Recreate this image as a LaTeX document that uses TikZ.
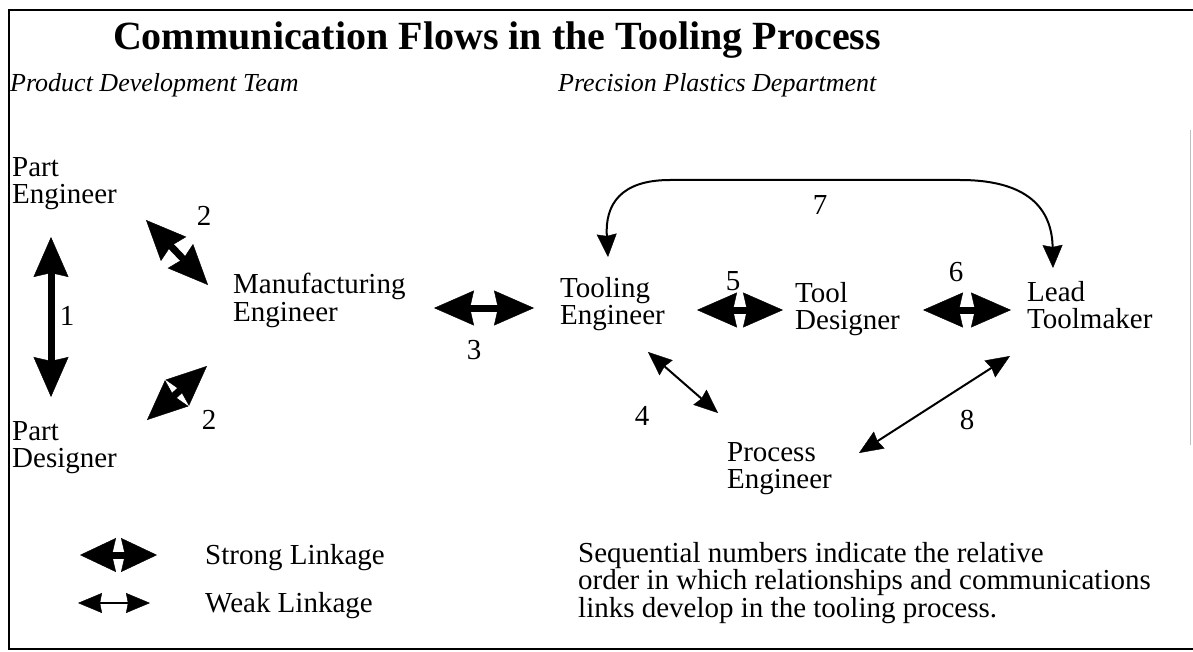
\documentclass[tikz,border=0pt]{standalone}
\usepackage{fontspec}
\setmainfont{Liberation Serif}
\usetikzlibrary{arrows.meta}
\tikzset{
  shL/.tip={Stealth[length=40pt,width=35pt,inset=4pt,line width=0.4pt]},
  shS/.tip={Stealth[length=36pt,width=34pt,inset=4pt,line width=0.4pt]},
  whL/.tip={Stealth[length=24pt,width=20pt,inset=2pt,line width=0.4pt]},
  whC/.tip={Stealth[length=23pt,width=20pt,inset=2pt,line width=0.4pt]}
}
\begin{document}
\begin{tikzpicture}[x=1pt,y=-1pt,
  lbl/.style={font=\fontsize{29}{27.5}\selectfont, align=left, anchor=north west, inner sep=0pt},
  num/.style={font=\fontsize{29}{29}\selectfont, inner sep=0pt},
  hdr/.style={font=\fontsize{26}{26}\selectfont\itshape, anchor=north west, inner sep=0pt},
  strong/.style={line width=7pt, shL-shL},
  strongleg/.style={line width=7pt, shS-shS},
  weak/.style={line width=2pt, whL-whL},
  curved/.style={line width=2pt, whC-whC},
  frameline/.style={line width=2.5pt, black}]
\useasboundingbox (0,0) rectangle (1193,652);
% frame
\coordinate (fTL) at (9,10);
\coordinate (fTR) at (1193,10);
\coordinate (fBL) at (9,649);
\coordinate (fBR) at (1193,649);
\draw[frameline] (fTR) -- (fTL) -- (fBL) -- (fBR);
\coordinate (rA) at (1190,130);
\coordinate (rB) at (1190,445);
\draw[black!25, line width=1pt] (rA) -- (rB);
% titles
\node[font=\fontsize{40}{40}\selectfont\bfseries, anchor=north, inner sep=0pt] (title) at (497,22) {Communication Flows in the Tooling Process};
\node[hdr] (pdt) at (10,73) {Product Development Team};
\node[hdr] (ppd) at (558,73) {Precision Plastics Department};
% actors
\node[lbl] (pe) at (12,157) {Part\\Engineer};
\node[lbl] (pd) at (12,421) {Part\\Designer};
\node[lbl] (me) at (233,273) {Manufacturing\\Engineer};
\node[lbl] (te) at (560,277) {Tooling\\Engineer};
\node[lbl] (td) at (795,282) {Tool\\Designer};
\node[lbl] (lt) at (1027,281) {Lead\\Toolmaker};
\node[lbl] (pr) at (727,442) {Process\\Engineer};
% arrow end points
\coordinate (a1a) at (51,237); \coordinate (a1b) at (51,397);
\coordinate (a2a) at (146,220); \coordinate (a2b) at (208,285);
\coordinate (a2c) at (147,420); \coordinate (a2d) at (207,366);
\coordinate (a3a) at (434,308); \coordinate (a3b) at (534,308);
\coordinate (a5a) at (697,310); \coordinate (a5b) at (783,310);
\coordinate (a6a) at (923,310); \coordinate (a6b) at (1011,310);
\coordinate (a4a) at (648,352); \coordinate (a4b) at (718,413);
\coordinate (a8a) at (1010,356); \coordinate (a8b) at (859,453);
\coordinate (a7a) at (608,257); \coordinate (a7b) at (1053,268);
% arrows
\draw[strong] (a1a) -- (a1b);
\draw[strong] (a2a) -- (a2b);
\draw[strong] (a2c) -- (a2d);
\draw[strong] (a3a) -- (a3b);
\draw[strong] (a5a) -- (a5b);
\draw[strong] (a6a) -- (a6b);
\draw[weak] (a4a) -- (a4b);
\draw[weak] (a8a) -- (a8b);
\draw[curved] (a7a) .. controls (605,205) and (620,180) .. (670,180) -- (960,180) .. controls (1035,180) and (1052,215) .. (a7b);
% numbers
\node[num] (n1) at (67,316) {1};
\node[num] (n2a) at (204,216) {2};
\node[num] (n2b) at (209,420) {2};
\node[num] (n3) at (474,350) {3};
\node[num] (n4) at (642,416) {4};
\node[num] (n5) at (733,281) {5};
\node[num] (n6) at (956,272) {6};
\node[num] (n7) at (820,205) {7};
\node[num] (n8) at (967,420) {8};
% legend
\coordinate (lsA) at (80,555); \coordinate (lsB) at (157,555);
\coordinate (lwA) at (78,603); \coordinate (lwB) at (150,603);
\draw[strongleg] (lsA) -- (lsB);
\draw[weak] (lwA) -- (lwB);
\node[lbl] (lsT) at (205,544) {Strong Linkage};
\node[lbl] (lwT) at (205,592) {Weak Linkage};
\node[lbl] (note) at (578,542) {Sequential numbers indicate the relative\\order in which relationships and communications\\links develop in the tooling process.};
\end{tikzpicture}
\end{document}
